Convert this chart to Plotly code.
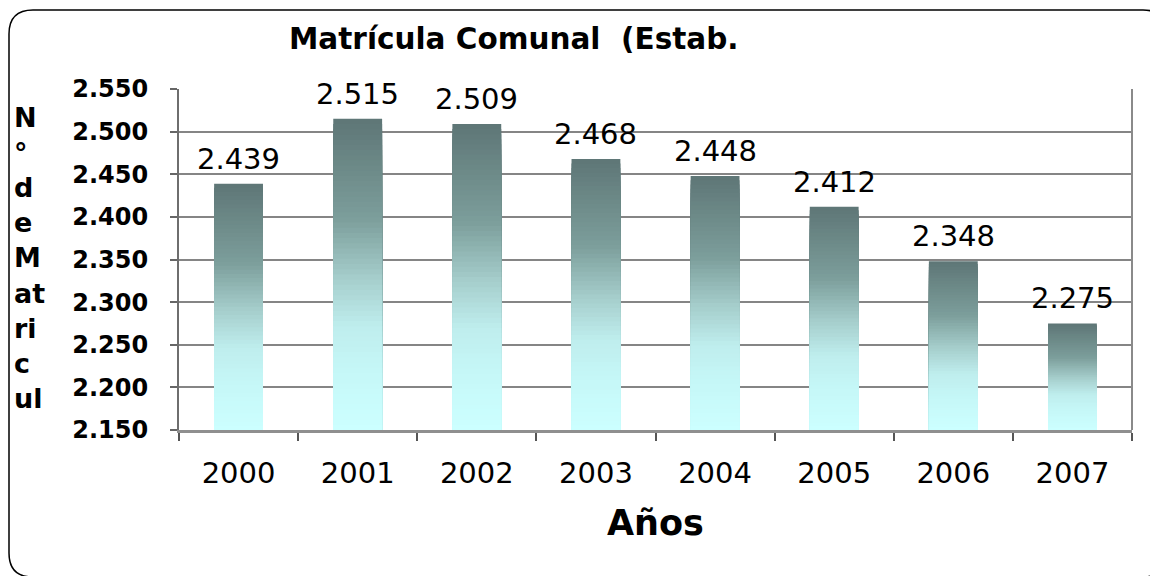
import plotly.graph_objects as go

# ---- data ----
years = ["2000", "2001", "2002", "2003", "2004", "2005", "2006", "2007"]
matricula = [2439, 2515, 2509, 2468, 2448, 2412, 2348, 2275]
y_ticks = [2150, 2200, 2250, 2300, 2350, 2400, 2450, 2500, 2550]
title_text = "Matrícula Comunal  (Estab."
y_title_lines = ["N", "°", "d", "e", "M", "at", "ri", "c", "ul"]
x_title = "Años"

OFF = 8  # page body margin
W, H = 1158 - OFF, 576 - OFF
# plot area in page pixels: x 179..1132, y 89..430
L, R, T, B = 179 - OFF, 1158 - 1132, 89 - OFF, 576 - 430
base_val = 2150

# gradient stops (t=0 top of bar, t=1 bottom of bar)
stops = [(0.0, (94, 118, 118)), (0.32, (124, 158, 155)), (0.51, (165, 205, 203)),
         (0.67, (191, 238, 238)), (0.83, (198, 248, 248)), (1.0, (204, 255, 255))]


def grad(t):
    for (t0, c0), (t1, c1) in zip(stops[:-1], stops[1:]):
        if t0 <= t <= t1:
            f = (t - t0) / (t1 - t0) if t1 > t0 else 0
            return "rgb(%d,%d,%d)" % tuple(round(a + (b - a) * f) for a, b in zip(c0, c1))
    return "rgb(%d,%d,%d)" % stops[-1][1]


# gradient bars: nested bars from the baseline, tallest (top colour) drawn first
N = 60
fig = go.Figure()
for k in range(N - 1, -1, -1):
    heights = [(v - base_val) * (k + 1) / N for v in matricula]
    t = 1 - (k + 0.5) / N
    fig.add_trace(go.Bar(
        x=years, y=heights, base=base_val,
        marker=dict(color=grad(t), line=dict(width=0)),
        width=0.41, hoverinfo="skip", showlegend=False,
    ))

# data labels
for i, v in enumerate(matricula):
    fig.add_annotation(x=i, y=v, text=f"{v:,}".replace(",", "."), showarrow=False,
                       yanchor="bottom", yshift=6,
                       font=dict(family="DejaVu Sans", size=29, color="#000000"))


def px(x):
    # page pixel -> paper x
    return (x - OFF - L) / (W - L - R)


def py(y):
    # page pixel -> paper y
    return (H - B - (y - OFF)) / (H - T - B)


# title
fig.add_annotation(x=px(514), y=py(39), xref="paper", yref="paper", text="<b>%s</b>" % title_text,
                   showarrow=False, xanchor="center", yanchor="middle",
                   font=dict(family="DejaVu Sans", size=29.5, color="#000000"))
# y title stacked
fig.add_annotation(x=px(12), y=py(258), xref="paper", yref="paper",
                   text="<b>" + "<br>".join(y_title_lines) + "</b>",
                   showarrow=False, xanchor="left", yanchor="middle", align="left",
                   font=dict(family="DejaVu Sans", size=27, color="#000000"))
# x title
fig.add_annotation(x=px(655), y=py(523), xref="paper", yref="paper", text="<b>%s</b>" % x_title,
                   showarrow=False, xanchor="center", yanchor="middle",
                   font=dict(family="DejaVu Sans", size=35, color="#000000"))

# rounded frame
x0, x1, y0, y1, r = px(9), px(1167), py(10), py(577), 24
rx, ry = r / (W - L - R), r / (H - T - B)
path = (f"M {x0+rx},{y0} L {x1-rx},{y0} Q {x1},{y0} {x1},{y0-ry} "
        f"L {x1},{y1+ry} Q {x1},{y1} {x1-rx},{y1} L {x0+rx},{y1} Q {x0},{y1} {x0},{y1+ry} "
        f"L {x0},{y0-ry} Q {x0},{y0} {x0+rx},{y0} Z")
fig.add_shape(type="path", path=path, xref="paper", yref="paper",
              line=dict(color="#000000", width=1.5), layer="above")
# right border of plot area
fig.add_shape(type="line", x0=1, x1=1, y0=0, y1=1, xref="paper", yref="paper",
              line=dict(color="#8a8a8a", width=2))

fig.update_layout(
    width=W, height=H,
    margin=dict(l=L, r=R, t=T, b=B),
    paper_bgcolor="white", plot_bgcolor="white",
    barmode="overlay", separators=",.",
    font=dict(family="DejaVu Sans", color="#000000"),
    xaxis=dict(type="category", range=[-0.5, len(years) - 0.5],
               tickson="boundaries", ticks="outside", ticklen=8,
               tickcolor="#555555", tickwidth=1.5, tickangle=0,
               showline=True, linecolor="#8f8f8f", linewidth=3,
               showgrid=False, tickfont=dict(family="DejaVu Sans", size=29),
               ticklabelstandoff=15),
    yaxis=dict(range=[base_val, 2550], tickvals=y_ticks, tickformat=",d",
               ticks="outside", ticklen=7, tickcolor="#666666", tickwidth=1.5,
               showline=True, linecolor="#6e6e6e", linewidth=2,
               showgrid=True, gridcolor="#858585", gridwidth=2,
               tickfont=dict(family="DejaVu Sans", size=24, weight="bold"),
               ticklabelstandoff=17, zeroline=False),
)

fig.write_html("out.html")
